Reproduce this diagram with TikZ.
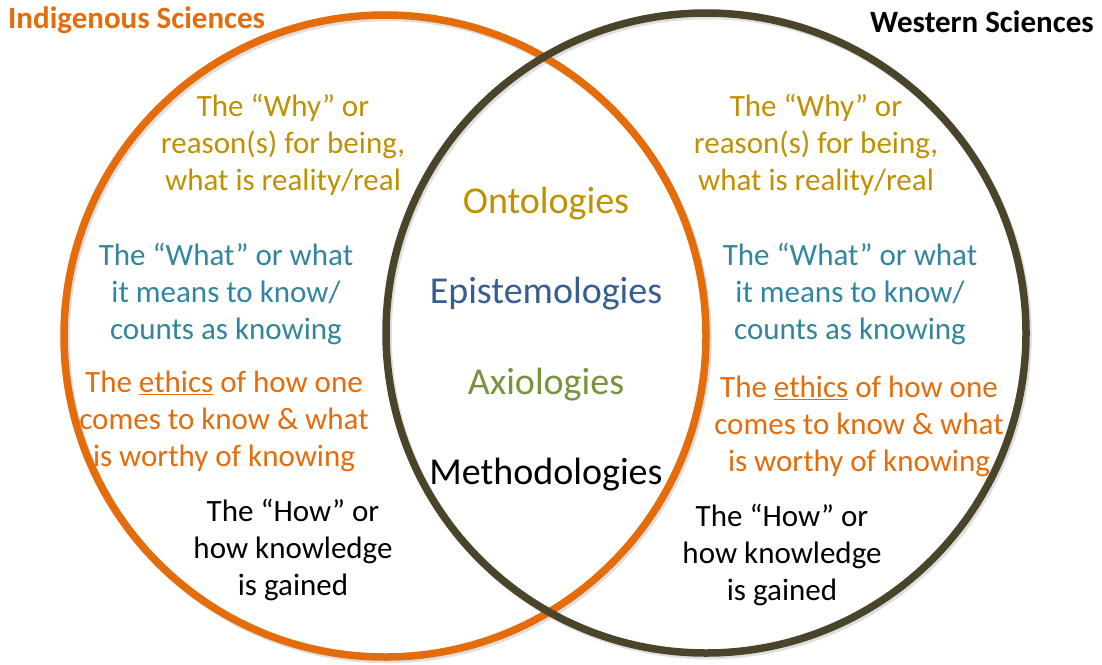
\documentclass[tikz,border=0pt]{standalone}
\usepackage{fontspec}
\setmainfont{Carlito}
\definecolor{corange}{HTML}{E46C0A}
\definecolor{colive}{HTML}{4A442A}
\definecolor{cgold}{HTML}{BF9000}
\definecolor{cteal}{HTML}{31859C}
\definecolor{cblue}{HTML}{365F91}
\definecolor{cgreen}{HTML}{77933C}
\begin{document}
\begin{tikzpicture}[x=1pt,y=-1pt,
  ring/.style={line width=7.5pt},
  shade/.style={line width=7.5pt,draw=black!25,opacity=0.5},
  body/.style={align=center,inner sep=0pt,font=\fontsize{31}{37}\selectfont},
  core/.style={inner sep=0pt,font=\fontsize{38}{42}\selectfont},
  head/.style={inner sep=0pt,font=\fontsize{31}{34}\selectfont\bfseries}]
\useasboundingbox (0,0) rectangle (1102,664);
\coordinate (cl) at (385,336);
\coordinate (cr) at (706,333);
\draw[shade] ([shift={(2,2.5)}]cl) circle[radius=321];
\draw[shade] ([shift={(2,2.5)}]cr) circle[radius=320];
\draw[ring,draw=corange] (cl) circle[radius=321];
\draw[ring,draw=colive] (cr) circle[radius=320];

\node[head,text=corange,anchor=west] (hl) at (8,20) {Indigenous Sciences};
\node[head,text=black,anchor=east] (hr) at (1094,22) {Western Sciences};

\node[body,text=cgold] (lwhy) at (283,145) {The “Why” or\\reason(s) for being,\\what is reality/real};
\node[body,text=cteal] (lwhat) at (226,294) {The “What” or what\\it means to know/\\counts as knowing};
\node[body,text=corange] (leth) at (224,421) {The \underline{ethics} of how one\\comes to know \& what\\is worthy of knowing};
\node[body,text=black] (lhow) at (293,550) {The “How” or\\how knowledge\\is gained};

\node[body,text=cgold] (rwhy) at (816,145) {The “Why” or\\reason(s) for being,\\what is reality/real};
\node[body,text=cteal] (rwhat) at (850,294) {The “What” or what\\it means to know/\\counts as knowing};
\node[body,text=corange] (reth) at (859,426) {The \underline{ethics} of how one\\comes to know \& what\\is worthy of knowing};
\node[body,text=black] (rhow) at (782,555) {The “How” or\\how knowledge\\is gained};

\node[core,text=cgold] (ont) at (546,204) {Ontologies};
\node[core,text=cblue] (epi) at (546,294) {Epistemologies};
\node[core,text=cgreen] (axi) at (546,385) {Axiologies};
\node[core,text=black] (met) at (546,475) {Methodologies};
\end{tikzpicture}
\end{document}
